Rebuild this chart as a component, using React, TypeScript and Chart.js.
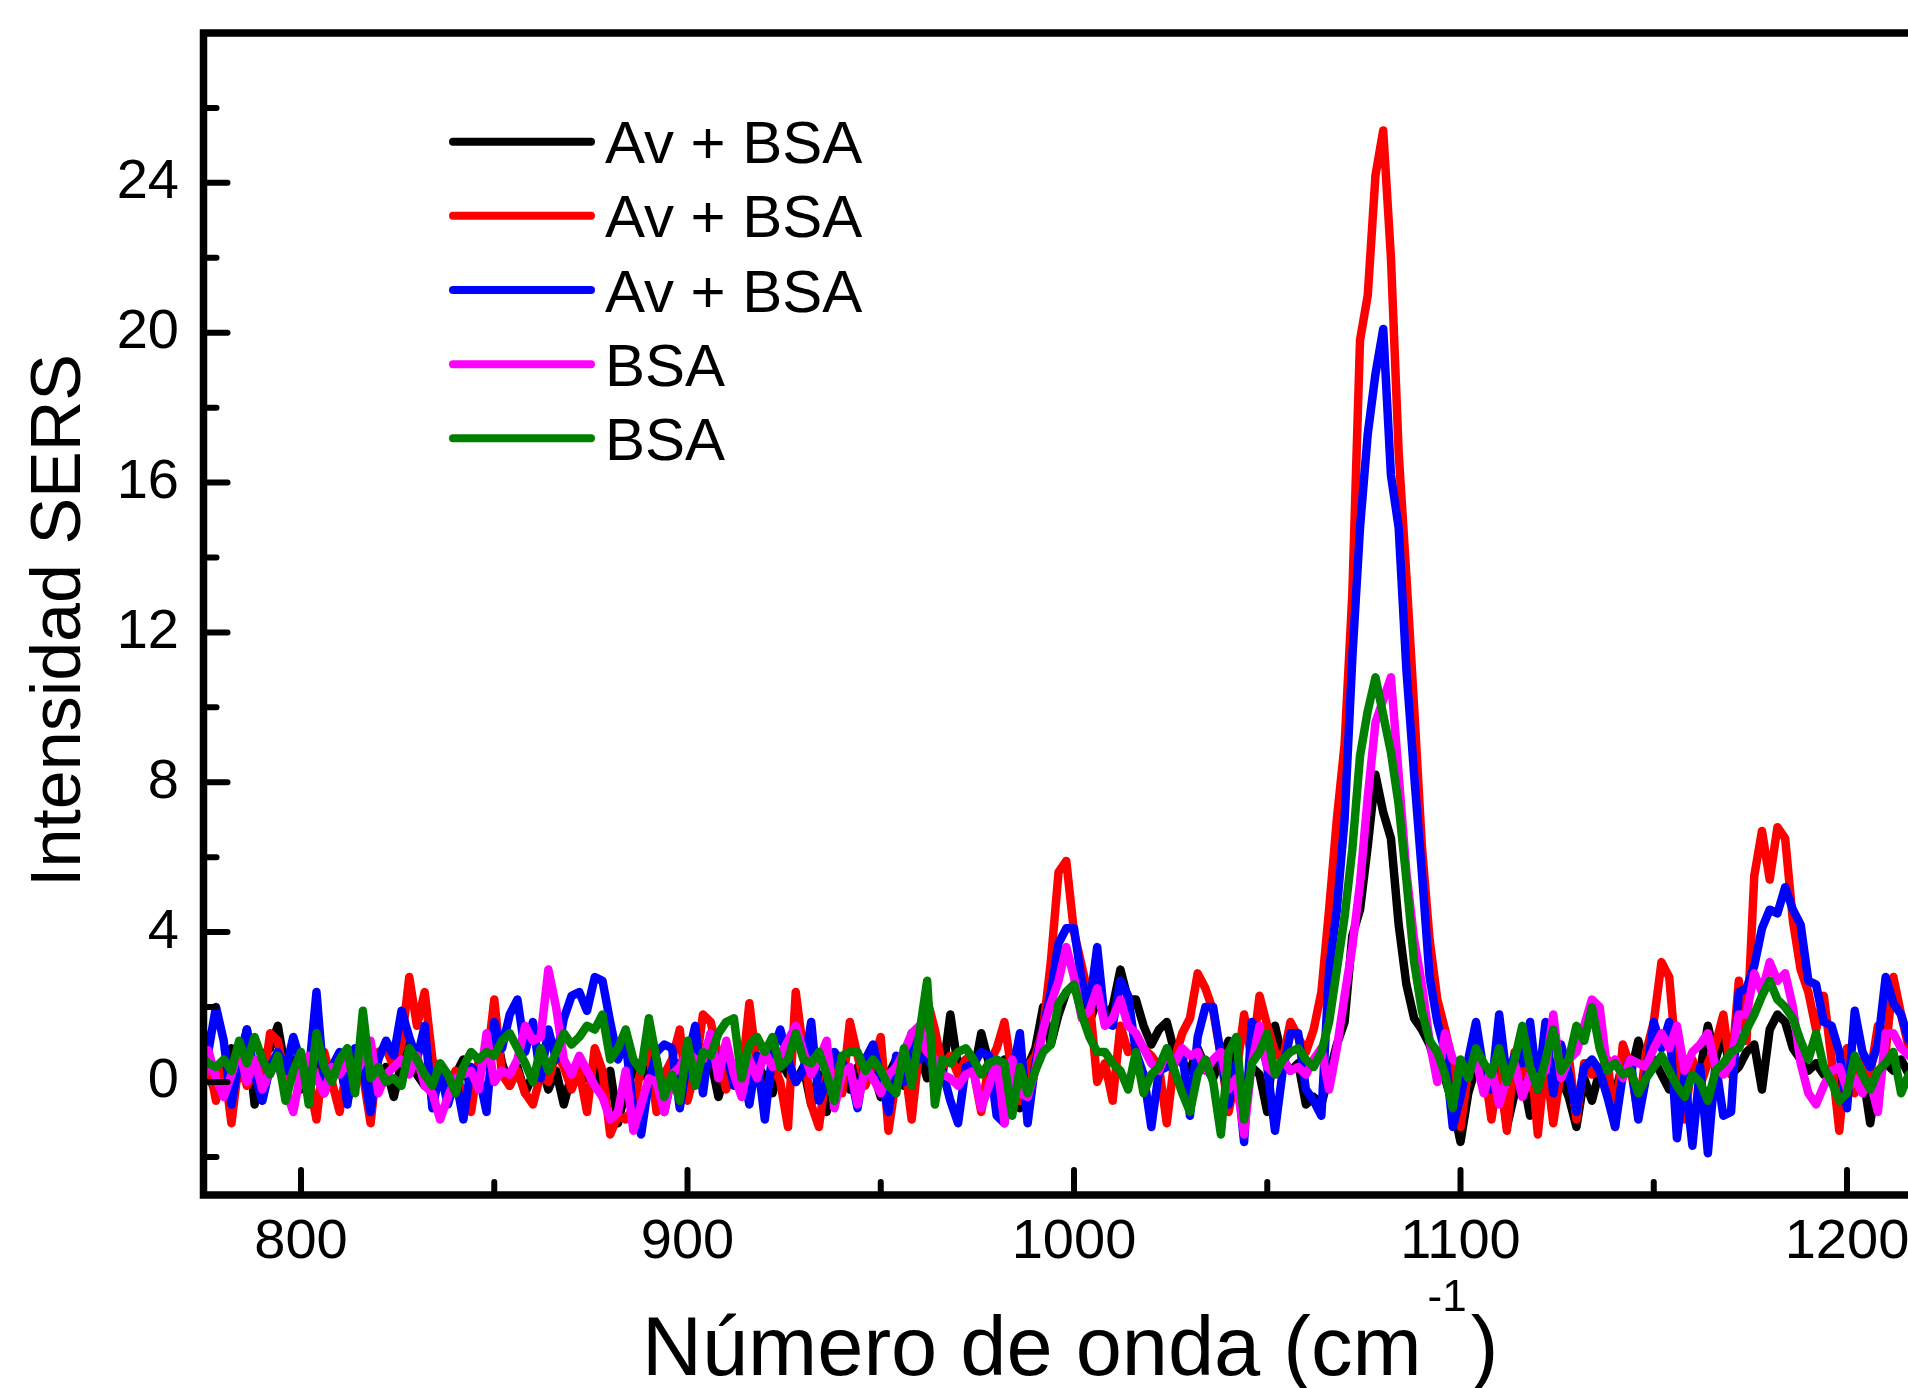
import React, { useEffect, useRef } from "react";
import { Chart, registerables } from "chart.js";

Chart.register(...registerables);

// Wavenumber grid (cm^-1)
const WAVENUMBER = [
  774, 776, 778, 780, 782, 784, 786, 788, 790, 792,
  794, 796, 798, 800, 802, 804, 806, 808, 810, 812,
  814, 816, 818, 820, 822, 824, 826, 828, 830, 832,
  834, 836, 838, 840, 842, 844, 846, 848, 850, 852,
  854, 856, 858, 860, 862, 864, 866, 868, 870, 872,
  874, 876, 878, 880, 882, 884, 886, 888, 890, 892,
  894, 896, 898, 900, 902, 904, 906, 908, 910, 912,
  914, 916, 918, 920, 922, 924, 926, 928, 930, 932,
  934, 936, 938, 940, 942, 944, 946, 948, 950, 952,
  954, 956, 958, 960, 962, 964, 966, 968, 970, 972,
  974, 976, 978, 980, 982, 984, 986, 988, 990, 992,
  994, 996, 998, 1000, 1002, 1004, 1006, 1008, 1010, 1012,
  1014, 1016, 1018, 1020, 1022, 1024, 1026, 1028, 1030, 1032,
  1034, 1036, 1038, 1040, 1042, 1044, 1046, 1048, 1050, 1052,
  1054, 1056, 1058, 1060, 1062, 1064, 1066, 1068, 1070, 1072,
  1074, 1076, 1078, 1080, 1082, 1084, 1086, 1088, 1090, 1092,
  1094, 1096, 1098, 1100, 1102, 1104, 1106, 1108, 1110, 1112,
  1114, 1116, 1118, 1120, 1122, 1124, 1126, 1128, 1130, 1132,
  1134, 1136, 1138, 1140, 1142, 1144, 1146, 1148, 1150, 1152,
  1154, 1156, 1158, 1160, 1162, 1164, 1166, 1168, 1170, 1172,
  1174, 1176, 1178, 1180, 1182, 1184, 1186, 1188, 1190, 1192,
  1194, 1196, 1198, 1200, 1202, 1204, 1206, 1208, 1210, 1212,
  1214, 1216, 1218,
];

// Series 1: Av + BSA (black)
const AV_BSA_BLACK = [
  0.6, 0.2, -0.3, 0.5, 0.9, 0.1, 1.4, -0.6, 0.7, 0.9,
  1.5, 0.3, 0.6, -0.2, 0.4, 0.8, -0.3, 0.2, 0.5, -0.5,
  0.3, 0.6, -0.2, 0.1, 0.4, -0.4, 0.5, 1.0, 0.2, -0.1,
  0.4, 0.0, -0.3, 0.2, 0.6, -0.2, 0.3, 0.7, 1.6, 0.5,
  -0.1, 0.4, -0.3, 0.2, 0.5, -0.2, 0.3, -0.6, 0.2, 0.6,
  0.1, 0.4, -0.4, 0.3, -1.1, -0.2, 0.3, 0.5, 0.0, 0.6,
  -0.8, 0.2, 0.5, -0.3, 0.4, 0.1, 0.6, -0.4, 0.3, 0.1,
  0.4, -0.2, 0.5, 0.1, -0.3, 0.6, 0.2, 0.0, 0.4, -0.6,
  0.2, -0.8, 0.3, 0.5, -0.2, 0.4, 0.0, 0.3, -0.4, 0.2,
  0.6, -0.1, 0.3, 0.8, 0.1, 0.5, 0.2, 1.8, 0.4, 0.6,
  0.2, 1.3, 0.5, 0.2, 0.6, -0.3, -0.7, 0.4, 0.9, 2.0,
  1.0, 1.8, 2.4, 2.6, 2.0, 1.6, 2.2, 1.8, 2.0, 3.0,
  2.2, 2.2, 1.5, 1.0, 1.4, 1.6, 0.8, 0.5, 0.3, 0.9,
  0.4, 0.1, 0.6, 1.1, 0.2, -0.5, 0.4, 0.2, -0.8, 1.5,
  0.6, 0.3, 0.5, -0.6, -0.4, -0.6, 0.2, 1.0, 1.6, 3.9,
  4.6, 6.3, 8.2, 7.2, 6.5, 4.2, 2.6, 1.7, 1.4, 1.0,
  0.3, 0.1, -0.6, -1.6, -0.3, 0.4, 0.2, -0.2, 0.4, -1.2,
  -0.3, 0.2, -0.9, 0.3, -0.2, 0.5, 0.1, -0.4, -1.2, 0.1,
  -0.5, 0.3, 0.1, -0.3, 0.5, 0.2, 1.1, 0.3, 0.6, 0.2,
  -0.2, 0.4, 0.0, 0.5, 0.3, 1.5, 0.6, 1.3, 0.2, 0.4,
  0.8, 1.0, -0.2, 1.4, 1.8, 1.6, 0.9, 0.6, 0.3, 0.5,
  0.2, 0.4, -0.3, 0.1, 0.6, 0.3, -1.1, 0.2, 0.5, 0.3,
  0.6, 0.2, 0.4,
];

// Series 2: Av + BSA (red)
const AV_BSA_RED = [
  0.3, 0.6, -0.5, 0.5, -1.1, 0.6, -0.1, 0.3, -0.2, 1.3,
  1.1, 0.0, 0.4, 0.3, 0.1, -1.0, 0.8, 0.0, -0.8, 0.5,
  0.6, 0.2, -1.1, 0.8, 0.9, 0.4, 1.0, 2.8, 1.5, 2.4,
  0.6, 0.0, -0.2, 0.3, -0.4, -0.8, 0.6, 0.4, 2.2, 0.2,
  -0.1, 0.3, -0.3, -0.6, 0.2, 0.0, 0.8, 0.4, -0.2, 0.3,
  -0.8, 0.9, 0.3, -1.4, -0.9, -1.0, -0.7, 0.4, 0.9, -0.8,
  0.2, 0.6, 1.4, -0.5, 0.3, 1.8, 1.6, 0.7, -0.2, 0.4,
  0.1, 2.1, 0.4, -0.6, 0.5, 0.0, -1.2, 2.4, 0.8, -0.6,
  -1.2, 0.3, 0.6, -0.3, 1.6, 0.7, -0.1, 0.5, 1.2, -1.3,
  0.1, 0.6, -1.0, 0.9, 2.2, 1.4, 0.4, 0.7, 0.2, 0.6,
  0.3, -0.8, 0.5, 0.9, 1.6, 0.2, -0.5, 0.4, 0.7, 1.4,
  3.2, 5.6, 5.9, 4.0, 3.1, 2.2, 0.0, 0.5, -0.5, 1.5,
  0.8, 1.0, 0.9, 0.7, 0.4, -1.1, 0.6, 1.3, 1.7, 2.9,
  2.5, 1.9, 0.7, -0.8, 0.2, 1.8, 0.6, 2.3, 1.5, 0.8,
  0.6, 1.6, 1.2, 0.8, 1.4, 2.4, 4.6, 7.0, 9.0, 13.0,
  19.8, 21.0, 24.2, 25.4, 22.0, 16.8, 13.5, 10.0, 6.3, 3.8,
  2.2, 1.4, 0.5, -1.2, 0.3, 0.8, 0.5, -1.0, 0.4, -1.3,
  0.8, 0.2, 0.9, -1.4, 0.6, -1.1, 0.3, 0.7, -1.0, 0.5,
  0.2, 0.3, 0.6, -1.2, 1.0, 0.4, -0.9, 0.8, 1.6, 3.2,
  2.8, 0.4, -1.0, 0.6, -0.1, 0.5, 1.0, 1.8, 0.2, 2.7,
  1.1, 5.5, 6.7, 5.4, 6.8, 6.5, 4.3, 3.0, 2.4, 1.4,
  2.3, 0.6, -1.3, 0.9, -0.3, 0.6, 0.2, 1.5, 0.8, 2.8,
  1.8, 0.9, 0.4,
];

// Series 3: Av + BSA (blue)
const AV_BSA_BLUE = [
  1.6, 0.8, 2.0, 1.1, -0.6, 0.6, 1.4, 0.2, -0.5, 0.4,
  0.8, 0.3, 1.2, 0.5, 0.2, 2.4, -0.1, 0.4, 0.8, -0.6,
  0.9, 0.4, -0.8, 0.6, 1.1, 0.7, 1.9, 1.2, 0.6, 1.5,
  -0.7, 0.3, -0.6, 0.1, -1.0, 0.4, 0.2, -0.8, 1.6, 0.9,
  1.8, 2.2, 0.8, 1.6, 0.1, 1.4, 0.6, 1.7, 2.3, 2.4,
  1.9, 2.8, 2.7, 1.6, 0.6, 1.1, -0.8, -1.4, 0.0, 0.8,
  1.0, 0.9, -0.7, 0.6, 1.5, -0.3, 1.3, 0.2, 0.9, -0.1,
  0.5, -0.6, 0.7, -1.0, 0.8, 1.4, 0.6, 0.0, 0.3, 1.6,
  -0.5, 0.0, 0.8, 0.5, 0.3, -0.7, 0.6, 1.0, 0.1, -0.8,
  0.7, 0.0, 1.3, 0.6, 0.7, 0.2, 0.3, -0.5, -1.1, 0.4,
  0.5, 0.8, 0.7, -0.9, -1.1, 0.2, 1.3, -1.1, 0.5, 1.4,
  2.4, 3.7, 4.1, 4.1, 2.7, 2.0, 3.6, 1.6, 1.5, 2.7,
  2.3, 0.8, 0.2, -1.2, 0.3, 0.4, 0.6, 0.8, -0.9, 1.2,
  2.0, 2.0, 0.7, -0.6, 0.5, -1.6, 1.6, 1.3, 0.4, -1.3,
  0.3, 1.3, 1.3, -0.2, -0.5, -0.9, 3.0, 4.6, 7.0, 11.3,
  14.8, 17.3, 18.9, 20.1, 16.2, 14.8, 11.0, 8.2, 5.6, 2.8,
  1.6, 0.8, -1.2, -0.4, 0.6, 1.6, 0.3, -0.2, 1.8, 0.1,
  0.7, 0.5, 1.6, -0.2, 1.6, -0.3, 1.0, 0.2, -0.8, 0.4,
  0.6, 0.3, -0.4, -1.2, 0.2, 0.6, -1.0, 0.1, 1.6, 0.9,
  1.6, -1.5, 0.2, -1.7, 0.4, -1.9, 0.5, -0.9, -0.8, 2.4,
  2.5, 3.1, 4.1, 4.6, 4.5, 5.2, 4.6, 4.2, 2.7, 2.6,
  1.6, 1.5, 0.8, -0.7, 1.9, 0.8, 0.4, 1.0, 2.8, 2.1,
  1.8, 1.1, 0.6,
];

// Series 4: BSA (magenta)
const BSA_MAGENTA = [
  -0.4, 0.85, 0.1, -0.4, 0.2, 0.9, 0.0, 0.6, -0.2, 0.3,
  0.5, -0.2, -0.8, 0.3, 0.7, 0.1, -0.3, 0.4, 0.2, 0.5,
  0.2, 0.6, 1.1, -0.3, 0.2, 0.4, 0.6, 0.2, 0.7, -0.1,
  -0.3, -1.0, -0.4, 0.1, 0.2, 0.3, -0.2, 1.3, 0.0, 0.3,
  0.2, 0.6, 1.5, 1.1, 1.2, 3.0, 2.0, 0.6, 0.2, 0.7,
  0.3, -0.1, -0.4, -1.0, -0.8, 0.3, -1.3, -0.6, 0.1, 0.0,
  -0.8, 0.2, 0.4, 0.8, 0.6, 0.6, 1.3, 0.1, 1.1, 0.2,
  -0.4, 0.6, 0.1, 0.8, 0.4, 0.7, 1.1, 1.5, 0.8, 0.2,
  0.6, 1.1, -0.7, 0.2, 0.4, -0.6, 0.4, 0.1, -0.3, 0.2,
  0.4, 0.8, 1.3, 1.5, 0.8, 0.6, 0.2, 0.1, -0.1, 0.2,
  0.3, -0.7, -0.1, 0.6, -1.1, 0.6, -0.3, -0.4, 0.3, 1.4,
  2.1, 2.7, 3.6, 2.8, 1.7, 1.9, 2.5, 1.5, 1.7, 2.2,
  1.5, 1.3, 0.9, 0.5, 0.3, 0.8, 0.5, 0.9, 0.7, 0.8,
  0.3, 0.6, 0.8, -0.2, 0.1, -1.4, 0.5, 1.5, 0.4, 0.2,
  0.6, 0.3, 0.4, 0.2, 0.6, 0.9, -0.2, 0.9, 2.3, 3.6,
  5.3, 7.6, 9.6, 10.2, 10.8, 8.2, 5.6, 3.8, 2.6, 1.1,
  0.0, 1.3, 0.6, 0.5, 0.2, 0.6, -0.3, 0.4, -0.6, 0.1,
  0.5, -0.4, 0.2, 0.1, 0.3, 1.8, 0.1, 0.6, 0.8, 1.5,
  2.2, 2.0, 0.3, 0.6, 0.1, 0.6, 0.5, 0.4, 0.9, 1.3,
  0.9, 1.5, 0.3, 0.8, 1.0, 1.3, 0.4, 0.2, 0.5, 1.8,
  1.8, 2.9, 2.4, 3.2, 2.7, 2.9, 2.0, 0.5, -0.3, -0.6,
  -0.1, 0.3, 0.4, -0.2, 0.1, -0.3, 0.0, -0.8, 1.3, 1.3,
  0.9, 0.7, 0.4,
];

// Series 5: BSA (green)
const BSA_GREEN = [
  0.7, 0.5, 0.4, 0.6, 0.3, 1.1, 0.5, 1.2, 0.6, 0.2,
  0.7, -0.5, 0.3, 0.8, -0.6, 1.3, 0.4, 0.0, 0.6, 0.9,
  -0.3, 1.9, 0.1, 0.4, 0.0, 0.1, -0.1, 0.9, 0.6, 0.2,
  -0.1, 0.5, 0.2, -0.3, 0.4, 0.8, 0.6, 0.8, 0.7, 1.1,
  1.3, 0.9, 0.5, 0.0, 0.9, 0.3, 0.8, 1.3, 1.0, 1.2,
  1.5, 1.4, 1.8, 0.6, 0.9, 1.4, 0.6, 0.3, 1.7, 0.6,
  -0.4, 0.2, -0.5, 1.1, -0.1, 0.8, 0.7, 1.3, 1.6, 1.7,
  0.1, 1.0, 1.2, 0.8, 1.2, 0.4, 0.6, 1.3, 0.6, 0.5,
  0.8, 0.2, -0.5, 0.7, 0.8, 0.8, 0.3, 0.6, 0.3, -0.1,
  -0.3, 0.9, -0.1, 1.3, 2.7, -0.6, 0.6, 0.5, 0.8, 0.9,
  0.6, 0.2, 0.5, 0.6, 0.5, -0.9, 0.4, -0.3, 0.3, 0.8,
  1.0, 2.1, 2.4, 2.6, 1.8, 1.2, 0.8, 0.8, 0.5, 0.3,
  -0.2, 0.8, -0.3, 0.2, 0.4, 0.9, 0.3, -0.3, -0.8, 0.2,
  0.6, 0.0, -1.4, 0.8, 1.2, -1.0, 0.5, 0.8, 1.3, 0.2,
  0.6, 0.8, 0.9, 0.6, 0.4, 0.8, 1.6, 3.0, 4.4, 6.2,
  8.7, 9.9, 10.8, 9.8, 8.8, 7.4, 5.4, 3.2, 1.9, 1.1,
  0.8, 0.2, -0.7, 0.6, 0.1, 0.9, 0.5, 0.2, 0.9, 0.0,
  0.6, 1.5, 0.4, -0.2, 0.6, 1.4, 0.3, 0.6, 1.5, 1.1,
  2.0, 0.9, 0.3, 0.5, 0.2, 0.3, -0.3, 0.1, 0.4, 0.7,
  0.3, -0.1, -0.4, 0.2, 0.0, -0.5, 0.3, 0.5, 0.8, 0.9,
  1.4, 1.8, 2.3, 2.7, 2.2, 2.0, 1.7, 1.1, 0.6, 1.3,
  0.4, 0.0, -0.5, -0.3, 0.7, 0.2, -0.2, 0.3, 0.5, 0.8,
  -0.3, 0.2, 0.5,
];

const SERIES_LABELS = ["Av + BSA", "Av + BSA", "Av + BSA", "BSA", "BSA"];
const SERIES_COLORS = ["#000000", "#ff0000", "#0000ff", "#ff00ff", "#008000"];
const SERIES_VALUES = [AV_BSA_BLACK, AV_BSA_RED, AV_BSA_BLUE, BSA_MAGENTA, BSA_GREEN];

const X_MAJOR_TICKS = [800, 900, 1000, 1100, 1200];
const X_MINOR_TICKS = [850, 950, 1050, 1150];
const Y_MAJOR_TICKS = [0, 4, 8, 12, 16, 20, 24];
const Y_MINOR_TICKS = [-2, 2, 6, 10, 14, 18, 22, 26];

const X_TITLE_MAIN = "Número de onda (cm";
const X_TITLE_SUP = "-1";
const X_TITLE_END = ")";
const Y_TITLE = "Intensidad SERS";

const FONT = '"Liberation Sans", Arial, Helvetica, sans-serif';

const W = 1908;
const H = 1388;
const LINE_W = 8.5;

const decorPlugin = {
  id: "decor",
  afterDatasetsDraw(chart: any) {
    const { ctx, chartArea, scales } = chart;
    const { left, top, right, bottom } = chartArea;
    const x = scales.x;
    const y = scales.y;
    ctx.save();
    ctx.strokeStyle = "#000";
    ctx.lineCap = "round";
    ctx.lineWidth = 6;
    const seg = (x1: number, y1: number, x2: number, y2: number) => {
      ctx.beginPath();
      ctx.moveTo(x1, y1);
      ctx.lineTo(x2, y2);
      ctx.stroke();
    };
    X_MAJOR_TICKS.forEach((v) => {
      const p = x.getPixelForValue(v);
      seg(p, bottom, p, bottom - 25);
    });
    X_MINOR_TICKS.forEach((v) => {
      const p = x.getPixelForValue(v);
      seg(p, bottom, p, bottom - 13);
    });
    Y_MAJOR_TICKS.forEach((v) => {
      const p = y.getPixelForValue(v);
      seg(left, p, left + 24, p);
    });
    Y_MINOR_TICKS.forEach((v) => {
      const p = y.getPixelForValue(v);
      seg(left, p, left + 13, p);
    });
    // frame (right side lies beyond the visible page)
    ctx.lineWidth = 7.5;
    ctx.lineCap = "butt";
    ctx.lineJoin = "miter";
    ctx.beginPath();
    ctx.moveTo(right + 20, top);
    ctx.lineTo(left, top);
    ctx.lineTo(left, bottom);
    ctx.lineTo(right + 20, bottom);
    ctx.stroke();
    ctx.restore();
  },
  afterDraw(chart: any) {
    const { ctx } = chart;
    ctx.save();
    // legend
    const lx0 = 453;
    const lx1 = 591;
    const tx = 605;
    const ly0 = 141.7;
    const dy = 74.15;
    chart.data.datasets.forEach((ds: any, i: number) => {
      const yy = ly0 + i * dy;
      ctx.strokeStyle = ds.borderColor;
      ctx.lineWidth = 8;
      ctx.lineCap = "round";
      ctx.beginPath();
      ctx.moveTo(lx0, yy);
      ctx.lineTo(lx1, yy);
      ctx.stroke();
      ctx.fillStyle = "#000";
      ctx.font = `60px ${FONT}`;
      ctx.textAlign = "left";
      ctx.textBaseline = "alphabetic";
      ctx.fillText(ds.label, tx, yy + 21.5);
    });
    // y title
    ctx.save();
    ctx.translate(80, 620.5);
    ctx.rotate(-Math.PI / 2);
    ctx.font = `70px ${FONT}`;
    ctx.fillStyle = "#000";
    ctx.textAlign = "center";
    ctx.textBaseline = "alphabetic";
    ctx.fillText(Y_TITLE, 0, 0);
    ctx.restore();
    // x title with superscript
    ctx.fillStyle = "#000";
    ctx.textAlign = "left";
    ctx.textBaseline = "alphabetic";
    const bx = 642;
    const by = 1375;
    ctx.font = `83px ${FONT}`;
    ctx.fillText(X_TITLE_MAIN, bx, by);
    const w1 = ctx.measureText(X_TITLE_MAIN).width;
    ctx.font = `44px ${FONT}`;
    const sx = bx + w1 + 6;
    ctx.fillText(X_TITLE_SUP, sx, by - 64);
    const w2 = ctx.measureText(X_TITLE_SUP).width;
    ctx.font = `83px ${FONT}`;
    ctx.fillText(X_TITLE_END, sx + w2 + 4, by);
    ctx.restore();
  },
};

export default function App() {
  const canvasRef = useRef<HTMLCanvasElement | null>(null);

  useEffect(() => {
    if (!canvasRef.current) return;
    const datasets = SERIES_VALUES.map((vals, i) => ({
      label: SERIES_LABELS[i],
      data: WAVENUMBER.map((wx, j) => ({ x: wx, y: vals[j] })),
      borderColor: SERIES_COLORS[i],
      backgroundColor: SERIES_COLORS[i],
      borderWidth: LINE_W,
      pointRadius: 0,
      tension: 0,
      fill: false,
      borderJoinStyle: "round" as const,
      borderCapStyle: "round" as const,
      order: SERIES_VALUES.length - i,
    }));
    const tickFont = { family: FONT, size: 56 };
    const chart = new Chart(canvasRef.current, {
      type: "line",
      data: { datasets },
      options: {
        responsive: false,
        animation: false,
        devicePixelRatio: 1,
        layout: { padding: { top: 33, left: 0, right: 0, bottom: 0 } },
        elements: {
          line: { borderWidth: LINE_W, tension: 0, borderJoinStyle: "round", borderCapStyle: "round" },
          point: { radius: 0 },
        },
        plugins: {
          legend: { display: false },
          tooltip: { enabled: false },
          title: { display: false },
        },
        scales: {
          x: {
            type: "linear",
            min: 774.77,
            max: 1215.78,
            grid: { display: false, drawTicks: false },
            border: { display: false },
            ticks: {
              font: tickFont,
              color: "#000",
              padding: 14.4,
              maxRotation: 0,
              minRotation: 0,
              autoSkip: false,
              callback: (v: any) => String(v),
            },
            afterBuildTicks: (s: any) => {
              s.ticks = X_MAJOR_TICKS.map((v) => ({ value: v }));
            },
            afterFit: (s: any) => {
              s.height = H - 1195;
              s.paddingLeft = 0;
              s.paddingRight = 0;
            },
          },
          y: {
            type: "linear",
            min: -3.017,
            max: 28.0,
            grid: { display: false, drawTicks: false },
            border: { display: false },
            ticks: {
              font: tickFont,
              color: "#000",
              padding: 24.5,
              autoSkip: false,
              callback: (v: any) => String(v),
            },
            afterBuildTicks: (s: any) => {
              s.ticks = Y_MAJOR_TICKS.map((v) => ({ value: v }));
            },
            afterFit: (s: any) => {
              s.width = 203.5;
              s.paddingTop = 0;
              s.paddingBottom = 0;
            },
          },
        },
      },
      plugins: [decorPlugin],
    } as any);
    return () => chart.destroy();
  }, []);

  return (
    <div
      style={{
        position: "fixed",
        left: 0,
        top: 0,
        width: W,
        height: H,
        overflow: "hidden",
        background: "#ffffff",
      }}
    >
      <canvas ref={canvasRef} width={W} height={H} style={{ display: "block" }} />
    </div>
  );
}
